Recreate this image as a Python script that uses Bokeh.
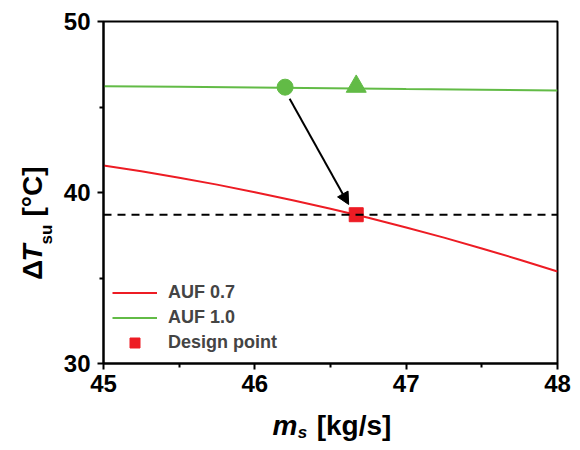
from bokeh.plotting import figure
from bokeh.layouts import row, column
from bokeh.models import (Range1d, FixedTicker, Label, Arrow, NormalHead, Span,
                          Legend, LegendItem)
from bokeh.embed import file_html
from bokeh.resources import INLINE
import math

# ---- data ----
ms_auf07 = [45.0, 45.25, 45.5, 45.75, 46.0, 46.25, 46.5, 46.75, 47.0, 47.25, 47.5, 47.75, 48.0]
dT_auf07 = [41.58, 41.24, 40.86, 40.46, 40.02, 39.55, 39.05, 38.52, 37.95, 37.36, 36.73, 36.07, 35.38]

ms_auf10 = [45.0, 45.5, 46.0, 46.5, 47.0, 47.5, 48.0]
dT_auf10 = [46.22, 46.18, 46.14, 46.10, 46.05, 46.01, 45.96]

design_ms = [46.67]
design_dT = [38.70]

circle_ms = [46.20]
circle_dT = [46.16]
triangle_ms = [46.67]
triangle_dT = [46.20]

arrow_from = [46.23, 45.48]
arrow_to = [46.62, 39.30]

x_ticks = [45, 46, 47, 48]
x_minor = [45.5, 46.5, 47.5]
y_ticks = [30, 40, 50]
y_minor = [35, 45]

RED = "#ed1c24"
GREEN = "#62bb46"
FONT = "Liberation Sans"

X0, X1, Y0, Y1 = 45, 48, 30, 50
FW, FH = 454, 342
YLAB_W = 55
MAIN_LEFT = 48
MAIN_TOP, MAIN_BOTTOM, MAIN_RIGHT = 21, 45, 15
MAIN_H = MAIN_TOP + FH + MAIN_BOTTOM
MAIN_W = MAIN_LEFT + FW + MAIN_RIGHT
XLAB_H = 34

p = figure(frame_width=FW, frame_height=FH, x_range=Range1d(X0, X1), y_range=Range1d(Y0, Y1),
           output_backend="svg", toolbar_location=None,
           min_border_left=MAIN_LEFT, min_border_top=MAIN_TOP,
           min_border_right=MAIN_RIGHT, min_border_bottom=MAIN_BOTTOM)
p.background_fill_color = "white"
p.border_fill_color = "white"
p.xgrid.grid_line_color = None
p.ygrid.grid_line_color = None
p.outline_line_color = "black"
p.outline_line_width = 2
p.outline_line_alpha = 1

p.xaxis.ticker = FixedTicker(ticks=x_ticks, minor_ticks=x_minor)
p.yaxis.ticker = FixedTicker(ticks=y_ticks, minor_ticks=y_minor)
for ax in (p.xaxis[0], p.yaxis[0]):
    ax.axis_line_width = 2
    ax.axis_line_color = "black"
    ax.major_tick_line_width = 2
    ax.minor_tick_line_width = 2
    ax.major_tick_out = 6
    ax.major_tick_in = 0
    ax.minor_tick_out = 4
    ax.minor_tick_in = 0
    ax.major_label_text_font = FONT
    ax.major_label_text_font_style = "bold"
    ax.major_label_text_font_size = "24px"
    ax.major_label_text_color = "black"
p.xaxis.major_label_standoff = 5
p.yaxis.major_label_standoff = 7

# ---- marks ----
r07 = p.line(ms_auf07, dT_auf07, line_color=RED, line_width=2)
r10 = p.line(ms_auf10, dT_auf10, line_color=GREEN, line_width=2)
p.add_layout(Span(location=design_dT[0], dimension="width", line_color="black",
                  line_width=2, line_dash="8 6"))
p.scatter(circle_ms, circle_dT, marker="circle", size=16, fill_color=GREEN, line_color=GREEN)
p.scatter(triangle_ms, triangle_dT, marker="triangle", size=20, fill_color=GREEN, line_color=GREEN)
p.add_layout(Arrow(x_start=arrow_from[0], y_start=arrow_from[1], x_end=arrow_to[0], y_end=arrow_to[1],
                   line_color="black", line_width=2,
                   end=NormalHead(size=12, fill_color="black", line_color="black")))
rdp = p.scatter(design_ms, design_dT, marker="square", size=14, fill_color=RED, line_color=RED)

legend = Legend(items=[LegendItem(label="AUF 0.7", renderers=[r07]),
                       LegendItem(label="AUF 1.0", renderers=[r10]),
                       LegendItem(label="Design point", renderers=[rdp])],
                location=(9, 8), padding=0, spacing=0, margin=0,
                glyph_width=45, glyph_height=25, label_height=25, label_standoff=11,
                label_text_font=FONT, label_text_font_style="bold", label_text_font_size="18px",
                border_line_color=None, background_fill_alpha=0)
p.add_layout(legend)


# ---- axis titles, composed in their own strips ----
def strip(w, h):
    f = figure(frame_width=w, frame_height=h, x_range=Range1d(0, w), y_range=Range1d(0, h),
               x_axis_location=None, y_axis_location=None, toolbar_location=None,
               output_backend="svg", min_border=0,
               min_border_left=0, min_border_right=0, min_border_top=0, min_border_bottom=0)
    f.outline_line_color = None
    f.background_fill_color = "white"
    f.border_fill_color = "white"
    f.grid.visible = False
    return f


def lab(f, text, x, y, size, style="bold", angle=0.0):
    f.add_layout(Label(x=x, y=y, text=text, angle=angle,
                       text_font=FONT, text_font_style=style, text_font_size=size,
                       text_color="black", text_align="center", text_baseline="middle"))


# centres given in page pixels; strip y measured upward from the strip bottom
yl = strip(YLAB_W, MAIN_H)
A = math.pi / 2
lab(yl, "\u0394", 32, MAIN_H - 248.5, "28px", angle=A)
lab(yl, "T", 32, MAIN_H - 231.5, "28px", style="bold italic", angle=A)
lab(yl, "su", 46, MAIN_H - 213, "17px", angle=A)
lab(yl, "[\u00b0C]", 32, MAIN_H - 170, "28px", angle=A)

XL_TOP = MAIN_H
xl = strip(YLAB_W + MAIN_W, XLAB_H)
lab(xl, "m", 284.5, XL_TOP + XLAB_H - 425, "28px", style="bold italic")
lab(xl, "s", 302, XL_TOP + XLAB_H - 432, "17px", style="bold italic")
lab(xl, "[kg/s]", 353.5, XL_TOP + XLAB_H - 425, "28px")

layout = column(row(yl, p, spacing=0), xl, spacing=0)

open("out.html", "w").write(file_html(layout, INLINE))
